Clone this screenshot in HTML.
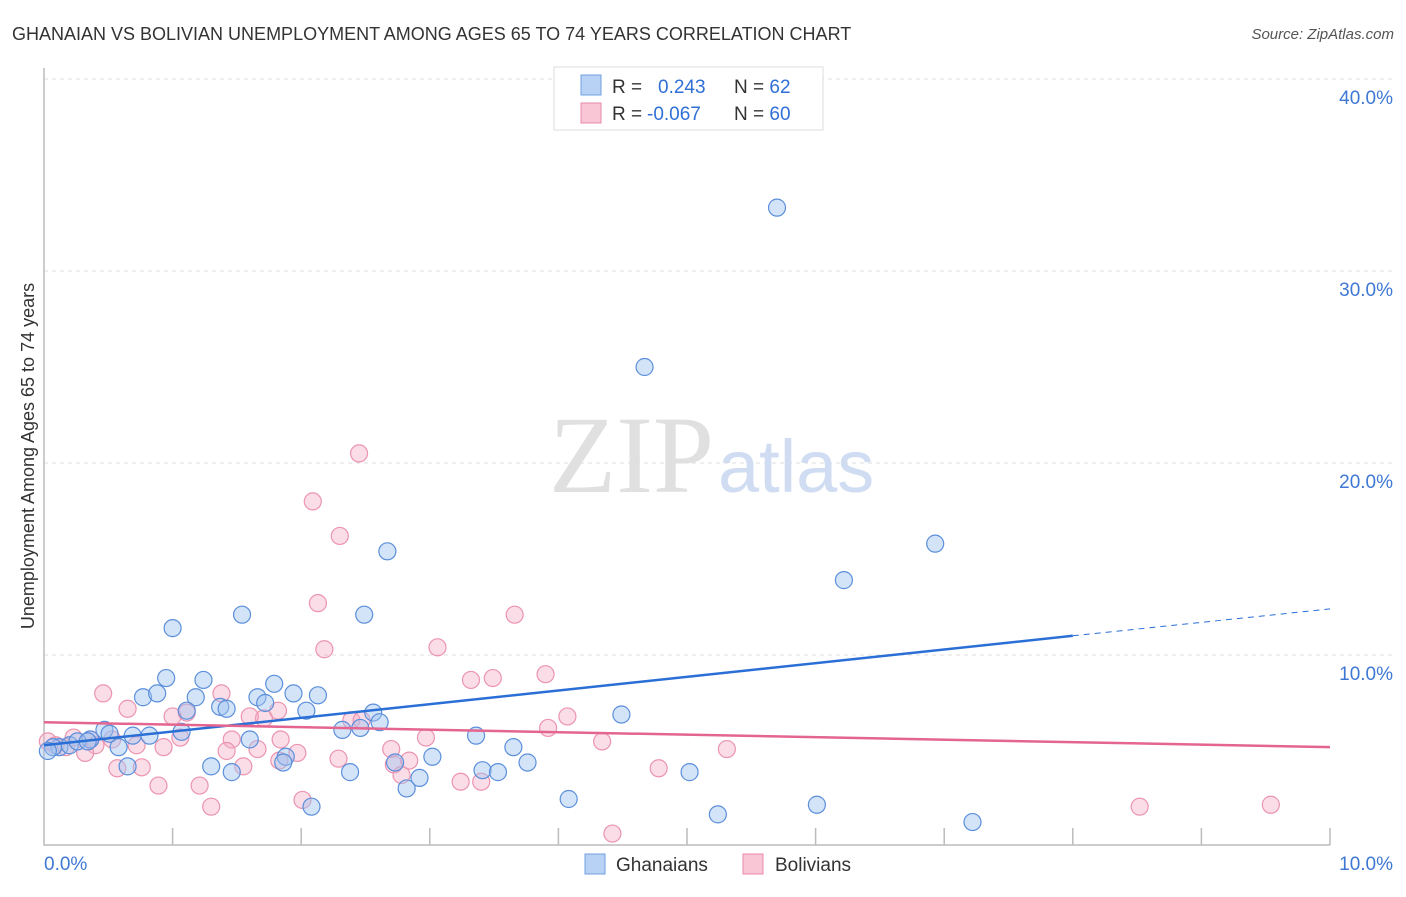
<!DOCTYPE html>
<html><head><meta charset="utf-8"><style>
body{margin:0;background:#fff;font-family:"Liberation Sans",sans-serif}
svg text{font-family:"Liberation Sans",sans-serif}
</style></head><body>
<svg width="1406" height="892" xmlns="http://www.w3.org/2000/svg">
<text x="12" y="40" font-size="18" fill="#333">GHANAIAN VS BOLIVIAN UNEMPLOYMENT AMONG AGES 65 TO 74 YEARS CORRELATION CHART</text>
<text x="1394" y="39" font-size="15" fill="#555" font-style="italic" text-anchor="end">Source: ZipAtlas.com</text>
<text x="34" y="456" font-size="18" fill="#333" text-anchor="middle" transform="rotate(-90 34 456)">Unemployment Among Ages 65 to 74 years</text>
<g id="grid"></g>
<text x="714" y="492" font-size="110" fill="#e0e0e0" text-anchor="end" style="font-family:'Liberation Serif',serif">ZIP</text>
<text x="718" y="492" font-size="74" fill="#cfdcf2">atlas</text>
<g id="pts"></g>
<g id="trend"></g>
<g>
<rect x="554" y="67" width="269" height="63" fill="#fff" stroke="#ddd"/>
<rect x="581" y="75" width="20" height="20" fill="#b8d2f5" stroke="#6f9fe0"/>
<rect x="581" y="103" width="20" height="20" fill="#f9c6d6" stroke="#e98aa8"/>
<text x="612" y="93" font-size="19" fill="#333">R = <tspan fill="#2f6fd6" x="658">0.243</tspan><tspan fill="#333" x="734">N = </tspan><tspan fill="#2f6fd6">62</tspan></text>
<text x="612" y="120" font-size="19" fill="#333">R = <tspan fill="#2f6fd6" x="647">-0.067</tspan><tspan fill="#333" x="734">N = </tspan><tspan fill="#2f6fd6">60</tspan></text>
</g>
<g>
<rect x="585" y="854" width="20" height="20" fill="#b8d2f5" stroke="#6f9fe0"/>
<text x="616" y="871" font-size="19" fill="#333">Ghanaians</text>
<rect x="743" y="854" width="20" height="20" fill="#f9c6d6" stroke="#e98aa8"/>
<text x="775" y="871" font-size="19" fill="#333">Bolivians</text>
</g>
</svg>
<script>
const yTicks=[10,20,30,40];
const yTickLabels=["10.0%","20.0%","30.0%","40.0%"];
const ghX=[5.70,4.67,6.93,6.22,2.67,1.54,2.49,1.00,0.95,1.24,1.79,0.77,0.88,1.18,1.66,1.94,2.13,1.37,1.42,1.72,2.04,1.11,0.47,0.51,0.69,0.82,0.58,1.07,1.60,2.32,2.46,2.56,2.61,3.36,4.49,3.65,3.76,3.02,2.73,1.88,1.86,1.30,1.46,0.65,2.38,2.92,2.82,3.41,3.53,4.08,5.02,2.08,5.24,6.01,7.22,0.36,0.12,0.20,0.07,0.26,0.34,0.03];
const ghY=[33.3,25.0,15.8,13.9,15.4,12.1,12.1,11.4,8.8,8.7,8.5,7.8,8.0,7.8,7.8,8.0,7.9,7.3,7.2,7.5,7.1,7.1,6.1,5.9,5.8,5.8,5.2,6.0,5.6,6.1,6.2,7.0,6.5,5.8,6.9,5.2,4.4,4.7,4.4,4.7,4.4,4.2,3.9,4.2,3.9,3.6,3.05,4.0,3.9,2.5,3.9,2.1,1.7,2.2,1.3,5.6,5.2,5.3,5.2,5.5,5.5,5.0];
const boX=[2.45,2.09,2.30,2.13,3.66,2.18,3.06,3.90,3.32,3.49,0.46,1.38,0.65,1.11,1.00,1.06,1.71,1.60,1.82,2.39,2.47,3.92,4.07,2.97,4.34,5.31,1.84,1.97,1.46,1.66,0.93,0.72,0.53,0.40,0.32,0.23,0.09,0.03,0.17,2.70,2.72,2.29,2.84,0.57,0.76,1.55,1.42,1.21,0.89,1.30,2.01,3.24,3.40,2.78,4.78,4.42,8.52,9.54,1.83,0.36];
const boY=[20.5,18.0,16.2,12.7,12.1,10.3,10.4,9.0,8.7,8.8,8.0,8.0,7.2,7.0,6.8,5.7,6.7,6.8,7.1,6.6,6.6,6.2,6.8,5.7,5.5,5.1,5.6,4.9,5.6,5.1,5.2,5.3,5.6,5.3,4.9,5.7,5.3,5.5,5.2,5.1,4.3,4.6,4.5,4.1,4.15,4.2,5.0,3.2,3.2,2.1,2.45,3.4,3.4,3.75,4.1,0.7,2.1,2.2,4.5,5.6];
const ghTrend=[[0,5.3],[8.0,11.0]], ghDash=[[8.0,11.0],[10,12.4]];
const boTrend=[[0,6.5],[10,5.2]];
const X=v=>44+v*128.6, Y=v=>847-v*19.2;
const NS="http://www.w3.org/2000/svg";
function mk(tag,attrs,parent){const e=document.createElementNS(NS,tag);for(const k in attrs)e.setAttribute(k,attrs[k]);parent.appendChild(e);return e;}
const grid=document.getElementById('grid');
yTicks.forEach((t,i)=>{
 const l=mk('line',{x1:44,x2:1394,y1:Y(t),y2:Y(t),stroke:'#ddd','stroke-dasharray':'4,4'},grid);
 
 
 const tx=mk('text',{x:1393,y:Y(t)+25,'font-size':19,fill:'#3f78d4','text-anchor':'end'},grid);
 tx.textContent=yTickLabels[i];
 
 
});
const ax=mk('path',{d:`M44 68 V845 H1330`,stroke:'#bbb',fill:'none','stroke-width':1.5},grid);


for(let i=1;i<=10;i++){const t=mk('line',{x1:X(i),x2:X(i),y1:828,y2:845,stroke:'#bbb','stroke-width':1.5},grid);
 
 }
[["0.0%",44,"start"],["10.0%",1393,"end"]].forEach(a=>{const t=mk('text',{x:a[1],y:870,'font-size':19,fill:'#3f78d4','text-anchor':a[2]},grid);t.textContent=a[0];
 
 });
const pts=document.getElementById('pts');
boX.forEach((x,i)=>{const c=mk('circle',{cx:X(x),cy:Y(boY[i]),r:8.5,fill:'rgba(246,170,195,0.4)',stroke:'#ec94b0','stroke-width':1.2},pts);
 
 });
ghX.forEach((x,i)=>{const c=mk('circle',{cx:X(x),cy:Y(ghY[i]),r:8.5,fill:'rgba(160,195,240,0.45)',stroke:'#5b8fdb','stroke-width':1.2},pts);
 
 });
const tr=document.getElementById('trend');
const l1=mk('line',{x1:X(ghTrend[0][0]),y1:Y(ghTrend[0][1]),x2:X(ghTrend[1][0]),y2:Y(ghTrend[1][1]),stroke:'#2a6fd6','stroke-width':2.5},tr);


const l2=mk('line',{x1:X(ghDash[0][0]),y1:Y(ghDash[0][1]),x2:X(ghDash[1][0]),y2:Y(ghDash[1][1]),stroke:'#2a6fd6','stroke-width':1,'stroke-dasharray':'6,5'},tr);


const l3=mk('line',{x1:X(boTrend[0][0]),y1:Y(boTrend[0][1]),x2:X(boTrend[1][0]),y2:Y(boTrend[1][1]),stroke:'#e4658f','stroke-width':2.5},tr);


</script>
</body></html>
